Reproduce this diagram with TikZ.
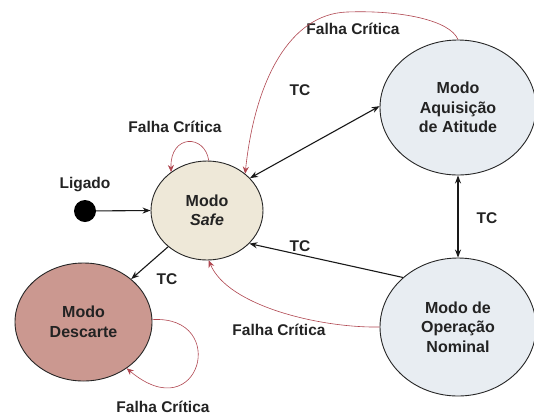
\documentclass[tikz,border=0pt]{standalone}
\usepackage{fontspec}
\setmainfont{Liberation Sans}
\usetikzlibrary{shapes.geometric,arrows.meta}
\definecolor{safefill}{RGB}{238,232,216}
\definecolor{descfill}{RGB}{203,152,144}
\definecolor{bluefill}{RGB}{232,237,242}
\definecolor{redline}{RGB}{176,70,80}
\definecolor{txt}{RGB}{35,35,35}
\begin{document}
\begin{tikzpicture}[x=1pt,y=-1pt,
  state/.style={ellipse,draw=black!85,line width=0.9pt,inner sep=0pt,align=center,
    font=\fontsize{16}{19.5}\selectfont\bfseries,text=txt},
  lbl/.style={font=\fontsize{15.5}{17}\selectfont\bfseries,text=txt,inner sep=0pt},
  tc/.style={draw=black!90,line width=1.1pt,-{Stealth[length=8pt,width=6pt]}},
  tcboth/.style={draw=black!90,line width=1.1pt,{Stealth[length=8pt,width=6pt]}-{Stealth[length=8pt,width=6pt]}},
  fail/.style={draw=redline,line width=0.6pt,-{Stealth[length=7pt,width=6pt]}}]
\useasboundingbox (0,0) rectangle (534,416);
\fill[white] (0,0) rectangle (534,416);
% states
\node[state,fill=safefill,minimum width=112pt,minimum height=99pt] (safe) at (207,210.5) {Modo\\\textit{Safe}};
\node[state,fill=descfill,minimum width=137pt,minimum height=118pt] (desc) at (83.5,322) {Modo\\Descarte};
\node[state,fill=bluefill,minimum width=156pt,minimum height=135pt] (aq) at (458,107.5) {Modo\\Aquisição\\de Atitude};
\node[state,fill=bluefill,minimum width=156pt,minimum height=138pt] (nom) at (458,327) {Modo de\\Operação\\Nominal};
\node[circle,fill=black,minimum size=22pt,inner sep=0pt] (start) at (85,211) {};
% labels
\node[lbl] (lig) at (85,185) {Ligado};
\node[lbl] (fcs) at (175,127) {Falha Crítica};
\node[lbl] (fca) at (353,29) {Falha Crítica};
\node[lbl] (tca) at (300,90) {TC};
\node[lbl] (tcv) at (487,218) {TC};
\node[lbl] (tcn) at (300,246) {TC};
\node[lbl] (fcn) at (279,330) {Falha Crítica};
\node[lbl] (tcd) at (167,279) {TC};
\node[lbl] (fcd) at (163,407) {Falha Crítica};
% black transitions
\draw[tc] (start) -- (safe.180);
\draw[tcboth] (safe.37) -- (aq.179);
\draw[tcboth] (aq.south) -- (nom.north);
\draw[tc] (nom.138) -- (safe.-38);
\draw[tc] (safe.223) -- (desc.42);
% red transitions
\draw[fail] (safe.88) .. controls (205,134) and (170,134) .. (safe.133);
\draw[fail] (aq.north) .. controls (450,20) and (400,10) .. (347,12) .. controls (290,14) and (255,80) .. (safe.44);
\draw[fail] (nom.180) .. controls (320,328) and (228,306) .. (safe.-88);
\draw[fail] (desc.2) .. controls (230,315) and (200,430) .. (desc.-47);
\end{tikzpicture}
\end{document}
